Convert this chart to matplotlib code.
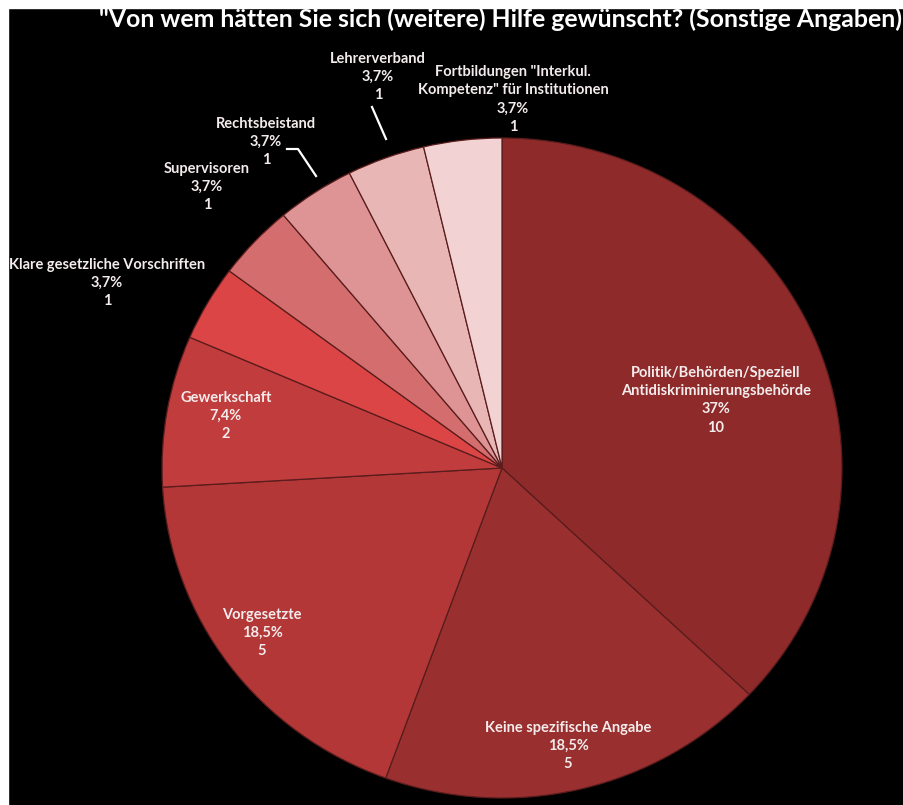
import matplotlib.pyplot as plt
from matplotlib.patches import Rectangle

names = [
    "Politik/Behörden/Speziell\nAntidiskriminierungsbehörde",
    "Keine spezifische Angabe",
    "Vorgesetzte",
    "Gewerkschaft",
    "Klare gesetzliche Vorschriften",
    "Supervisoren",
    "Rechtsbeistand",
    "Lehrerverband",
    "Fortbildungen \"Interkul.\nKompetenz\" für Institutionen",
]
counts = [10, 5, 5, 2, 1, 1, 1, 1, 1]
colors = ["#8e2a2a", "#992f2f", "#b33737", "#c13c3c", "#dc4545",
          "#d46d6d", "#de9494", "#e9b6b6", "#f2d2d2"]

title = "\"Von wem hätten Sie sich (weitere) Hilfe gewünscht? (Sonstige Angaben)"

# pie centre and radii in pixels (slightly squashed ellipse)
W, H = 904, 805
cx, cy, rx, ry = 502, 468, 340, 330

def px(x, y):
    return (x - cx) / rx, (cy - y) / ry

# label centres (pixels, top line y) for each slice
label_pos = [(716, 376), (568, 731), (262, 618), (226, 401), (107, 268),
             (207, 172), (266, 127), (378, 62), (513, 75)]

fig = plt.figure(figsize=(W / 100, H / 100), dpi=100, facecolor="black")
ax = fig.add_axes([0, 0, 1, 1])
ax.set_facecolor("black")

ax.pie(counts, colors=colors, startangle=90, counterclock=False,
       wedgeprops=dict(edgecolor="#5a1c1c", linewidth=0.9))
ax.set_aspect("auto")
ax.set_xlim(-cx / rx, (W - cx) / rx)
ax.set_ylim((cy - H) / ry, cy / ry)
ax.axis("off")

total = sum(counts)
for name, c, (lx, ly) in zip(names, counts, label_pos):
    p = f"{100 * c / total:.1f}".replace(".", ",")
    if p.endswith(",0"):
        p = p[:-2]
    txt = f"{name}\n{p}%\n{c}"
    x, y = px(lx, ly - 10)
    ax.text(x, y, txt, ha="center", va="top", color="#f4ecec",
            fontsize=10.5, fontfamily="Lato", fontweight="bold",
            linespacing=1.38)

# leader lines for the two crowded labels
for (x0, y0), (x1, y1), (x2, y2) in [((372, 107), (372, 107), (386, 139)),
                                     ((287, 149), (298, 149), (316, 176))]:
    xs, ys = zip(px(x0, y0), px(x1, y1), px(x2, y2))
    ax.plot(xs, ys, color="white", lw=1.6)

fig.text(902 / W, 1 - 19 / H, title, ha="right", va="center",
         color="white", fontsize=17.9, fontfamily="Lato", fontweight="bold")

# thin white margin along the top and left edges
fig.patches.append(Rectangle((0, 0), 8 / W, 1, transform=fig.transFigure,
                             color="white", zorder=10))
fig.patches.append(Rectangle((0, 1 - 8 / H), 1, 8 / H, transform=fig.transFigure,
                             color="white", zorder=10))

fig.savefig("out.png", dpi=100, facecolor="black")
